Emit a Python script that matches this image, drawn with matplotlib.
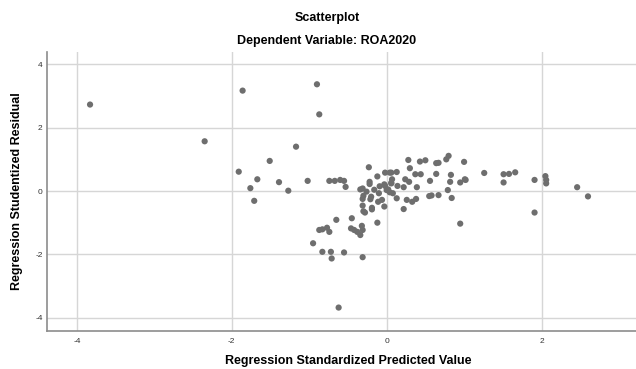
import matplotlib
matplotlib.use("Agg")
import matplotlib.pyplot as plt

plt.rcParams['font.family'] = ['Liberation Sans', 'DejaVu Sans']
plt.rcParams['axes.unicode_minus'] = False

# Regression standardized predicted value (x) vs studentized residual (y)
pred = [
    -3.83, -2.35, -1.91, -1.86, -0.90, -0.87, -1.17, -1.51, -1.67, -1.76,
    -1.71, -1.39, -1.27, -1.02, -0.74, -0.67, -0.60, -0.55, -0.53, -0.23,
    -0.12, -0.22, -0.22, -0.34, -0.31, -0.30, -0.31, -0.20, -0.21, -0.10,
    -0.06, -0.11, -0.02, 0.00, 0.02, -0.31, -0.19, -0.03, -0.30, -0.28,
    -0.19, -0.65, -0.45, -0.12, -0.46, -0.42, -0.38, -0.34, -0.31, -0.32,
    -0.87, -0.83, -0.77, -0.74, -0.95, -0.83, -0.72, -0.71, -0.55, -0.31,
    -0.62, -0.02, 0.04, 0.06, 0.13, 0.07, 0.06, 0.08, 0.04, 0.13,
    0.14, 0.06, 0.22, 0.24, 0.29, 0.28, 0.30, 0.37, 0.44, 0.39,
    0.43, 0.50, 0.26, 0.33, 0.38, 0.22, 0.56, 0.64, 0.64, 0.67,
    0.58, 0.67, 0.77, 0.80, 0.83, 0.82, 0.79, 0.84, 0.95, 1.01,
    1.02, 1.00, 0.95, 1.26, 1.51, 1.58, 1.66, 1.51, 1.91, 1.91,
    2.05, 2.06, 2.06, 2.46, 2.60, -0.03, -0.09, 0.55, -0.26, -0.16,
]
resid = [
    2.73, 1.57, 0.61, 3.17, 3.37, 2.42, 1.40, 0.95, 0.37, 0.09,
    -0.31, 0.28, 0.01, 0.32, 0.32, 0.32, 0.35, 0.32, 0.13, 0.75,
    0.46, 0.29, 0.22, 0.05, 0.08, -0.15, -0.25, -0.18, -0.26, -0.07,
    -0.28, -0.34, 0.16, 0.03, 0.05, -0.46, -0.53, -0.49, -0.64, -0.68,
    -0.58, -0.91, -0.86, -1.00, -1.18, -1.23, -1.29, -1.39, -1.23, -1.10,
    -1.23, -1.21, -1.16, -1.29, -1.65, -1.92, -1.92, -2.13, -1.94, -2.09,
    -3.68, 0.58, 0.58, 0.58, 0.60, 0.37, 0.26, -0.07, -0.04, -0.23,
    0.16, 0.24, 0.12, 0.37, 0.29, 0.98, 0.72, 0.53, 0.53, 0.12,
    0.93, 0.97, -0.28, -0.34, -0.25, -0.57, 0.32, 0.54, 0.88, 0.89,
    -0.14, -0.13, 1.00, 1.11, 0.51, 0.29, 0.03, -0.22, 0.27, 0.37,
    0.35, 0.92, -1.03, 0.57, 0.53, 0.54, 0.59, 0.27, 0.35, -0.68,
    0.47, 0.35, 0.24, 0.12, -0.17, 0.21, 0.15, -0.16, -0.02, 0.04,
]

x_ticks = [-4, -2, 0, 2]
y_ticks = [-4, -2, 0, 2, 4]

fig = plt.figure(figsize=(6.36, 3.69), dpi=100)
ax = fig.add_axes([0.0734, 0.103, 0.9266, 0.757])

ax.scatter(pred, resid, s=20, color='#6e6e6e', edgecolors='none', zorder=3)

ax.set_xlim(-4.39, 3.22)
ax.set_ylim(-4.42, 4.40)
ax.set_xticks(x_ticks)
ax.set_yticks(y_ticks)
ax.grid(True, color='#d6d6d6', linewidth=1.0, zorder=0)
ax.tick_params(length=0, labelsize=6, colors='#333333')
ax.tick_params(axis='y', pad=3)
ax.tick_params(axis='x', pad=5)

for side in ['top', 'right']:
    ax.spines[side].set_visible(False)
for side in ['left', 'bottom']:
    ax.spines[side].set_color('#8c8c8c')
    ax.spines[side].set_linewidth(1.2)

fig.text(0.514, 0.952, 'Scatterplot', ha='center', va='center',
         fontsize=9, fontweight='bold')
fig.text(0.514, 0.889, 'Dependent Variable: ROA2020', ha='center', va='center',
         fontsize=9, fontweight='bold')
fig.text(0.547, 0.022, 'Regression Standardized Predicted Value', ha='center',
         va='center', fontsize=9, fontweight='bold')
fig.text(0.027, 0.483, 'Regression Studentized Residual', ha='center',
         va='center', rotation=90, fontsize=9, fontweight='bold')

fig.savefig('out.png', dpi=100)
